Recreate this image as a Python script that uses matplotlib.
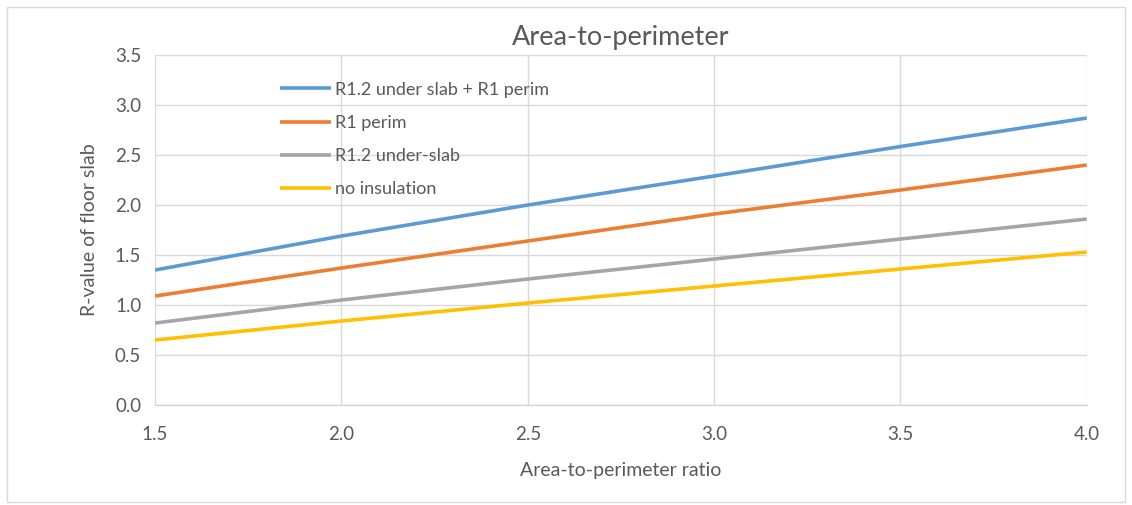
import numpy as np
import matplotlib
matplotlib.use("Agg")
import matplotlib.pyplot as plt
from matplotlib.patches import Rectangle

# datos
ratio = [1.5, 2.0, 2.5, 3.0, 3.5, 4.0]
under_slab_perim = [1.35, 1.69, 2.00, 2.29, 2.585, 2.87]
perim = [1.09, 1.37, 1.64, 1.91, 2.15, 2.40]
under_slab = [0.82, 1.05, 1.26, 1.46, 1.66, 1.86]
no_insulation = [0.65, 0.84, 1.02, 1.19, 1.36, 1.53]

labels = ['R1.2 under slab + R1 perim', 'R1 perim', 'R1.2 under-slab', 'no insulation']
colors = ['#5b9bd5', '#ed7d31', '#a5a5a5', '#ffc000']
xticks = [1.5, 2.0, 2.5, 3.0, 3.5, 4.0]
yticks = [0.0, 0.5, 1.0, 1.5, 2.0, 2.5, 3.0, 3.5]

plt.rcParams['font.family'] = ['Lato', 'DejaVu Sans']
txt = '#595959'

fig = plt.figure(figsize=(11.32, 5.05), dpi=100)
ax = fig.add_axes([0.137, 0.198, 0.823, 0.693])

series = [under_slab_perim, perim, under_slab, no_insulation]
for ys, lab, c in zip(series, labels, colors):
    ax.plot(ratio, ys, color=c, linewidth=2.6, label=lab, solid_capstyle='butt')

ax.set_xlim(1.5, 4.0)
ax.set_ylim(0, 3.5)
ax.set_xticks(xticks)
ax.set_xticklabels([f'{v:.1f}' for v in xticks])
ax.set_yticks(yticks)
ax.set_yticklabels([f'{v:.1f}' for v in yticks])
ax.grid(True, color='#d9d9d9', linewidth=1.0)
ax.set_axisbelow(True)
for s in ['top', 'right', 'left']:
    ax.spines[s].set_visible(False)
ax.spines['bottom'].set_color('#d0d0d0')
ax.tick_params(length=0, colors=txt, labelsize=13.5, pad=15)
ax.tick_params(axis='y', pad=10)

ax.set_title('Area-to-perimeter', fontsize=19.5, color=txt, pad=7)
ax.set_xlabel('Area-to-perimeter ratio', fontsize=14, color=txt, labelpad=14)
ax.set_ylabel('R-value of floor slab', fontsize=14, color=txt, labelpad=12)

leg = ax.legend(loc='upper left', bbox_to_anchor=(0.117, 0.97), frameon=False,
                fontsize=13, labelspacing=0.95, handlelength=2.8, handletextpad=0.2)
for t in leg.get_texts():
    t.set_color(txt)

fig.patches.append(Rectangle((0.006, 0.005), 0.988, 0.982, transform=fig.transFigure,
                             fill=False, edgecolor='#d9d9d9', linewidth=1.0))

fig.savefig('out.png', dpi=100)
